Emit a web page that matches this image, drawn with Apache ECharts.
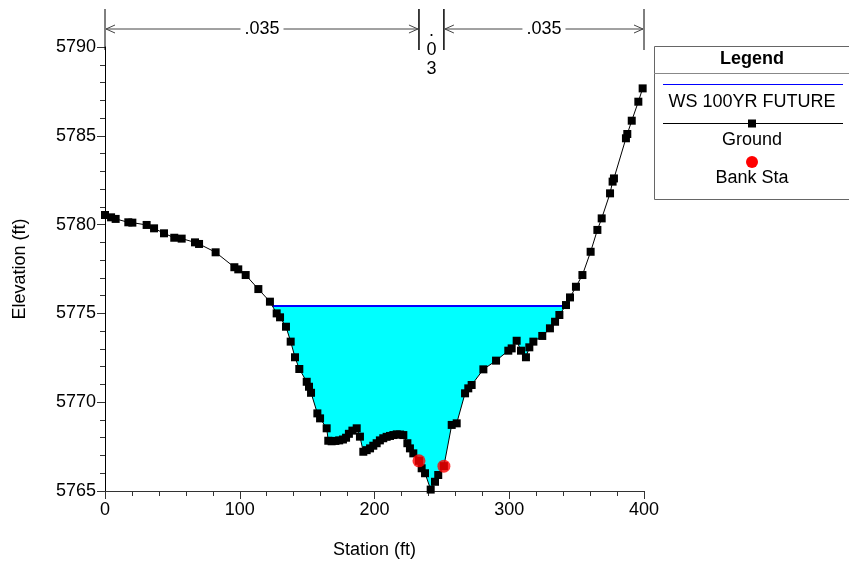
<!DOCTYPE html>
<html><head><meta charset="utf-8">
<script src="https://cdn.jsdelivr.net/npm/echarts@6/dist/echarts.min.js"></script>
<style>html,body{margin:0;padding:0;background:#fff}#c{width:849px;height:565px}</style>
</head><body><div id="c"></div>
<script>
const groundStation = [0,4.5,7.9,17.3,20.3,30.9,36.4,43.8,51.4,56.9,66.8,69.8,82.1,96.0,98.9,104.4,113.8,122.4,127.4,129.9,134.3,137.8,141.0,144.2,149.7,151.4,152.9,157.6,159.6,164.5,165.7,168.2,171.0,173.8,176.6,178.9,181.0,183.6,186.8,189.2,191.7,194.2,196.7,199.1,201.6,204.0,206.5,209.0,211.5,214.0,216.5,219.0,221.4,224.4,226.3,228.8,233.0,235.0,237.5,241.7,244.9,247.3,251.5,257.3,261.0,267.2,269.6,272.1,280.8,290.2,299.3,301.8,305.5,308.7,312.4,314.9,317.9,324.5,330.2,334.0,337.2,342.1,345.1,349.5,354.3,360.4,365.4,368.6,374.8,376.7,377.7,386.6,387.6,390.9,395.8,399.0];
const groundElev = [5780.54,5780.41,5780.32,5780.13,5780.11,5779.98,5779.79,5779.51,5779.26,5779.21,5779.00,5778.91,5778.44,5777.60,5777.48,5777.16,5776.37,5775.66,5775.00,5774.78,5774.25,5773.41,5772.53,5771.87,5771.15,5770.87,5770.53,5769.37,5769.09,5768.53,5767.83,5767.80,5767.82,5767.85,5767.90,5768.00,5768.22,5768.40,5768.53,5768.06,5767.21,5767.30,5767.40,5767.55,5767.69,5767.85,5767.97,5768.05,5768.10,5768.15,5768.19,5768.18,5768.15,5767.69,5767.40,5767.12,5766.70,5766.28,5766.00,5765.08,5765.52,5765.90,5766.40,5768.72,5768.81,5770.50,5770.78,5770.97,5771.85,5772.34,5772.90,5773.03,5773.46,5772.90,5772.53,5773.09,5773.41,5773.73,5774.16,5774.53,5774.91,5775.47,5775.90,5776.50,5777.16,5778.47,5779.70,5780.35,5781.76,5782.42,5782.60,5784.86,5785.10,5785.85,5786.92,5787.67];
const bankStation = [233.0, 251.5];
const bankElev = [5766.70, 5766.40];
const wsElev = 5775.42;
const nBreaks = [0, 233.0, 251.5, 400];
const nLabels = ['.035', '.03', '.035'];
const xMin = 0, xMax = 400, xStep = 100;
const yMin = 5765, yMax = 5790, yStep = 5;

const FONT = '"Liberation Sans", Arial, sans-serif';
const ground = groundStation.map((s, i) => [s, groundElev[i]]);

// water surface limits: first/last crossing of the WS with the ground
function crossing(a, b) {
  const t = (wsElev - a[1]) / (b[1] - a[1]);
  return a[0] + t * (b[0] - a[0]);
}
let iL = 0; while (ground[iL + 1][1] >= wsElev) iL++;
let iR = ground.length - 1; while (ground[iR - 1][1] >= wsElev) iR--;
const xL = crossing(ground[iL], ground[iL + 1]);
const xR = crossing(ground[iR - 1], ground[iR]);
const waterPoly = [[xL, wsElev]].concat(ground.slice(iL + 1, iR), [[xR, wsElev]]);

const nSegs = nLabels.map((l, i) => [nBreaks[i], nBreaks[i + 1], i]);

const chart = echarts.init(document.getElementById('c'), null, {renderer: 'canvas'});
chart.setOption({
  animation: false,
  backgroundColor: '#fff',
  textStyle: {fontFamily: FONT},
  grid: {left: 105, right: 205, top: 47, bottom: 74, containLabel: false},
  xAxis: {
    type: 'value', min: xMin, max: xMax, interval: xStep,
    name: 'Station (ft)', nameLocation: 'middle', nameGap: 50,
    nameTextStyle: {fontFamily: FONT, fontSize: 18, color: '#000'},
    axisLine: {lineStyle: {color: '#333', width: 1}},
    axisTick: {length: 8, lineStyle: {color: '#333'}},
    minorTick: {show: true, splitNumber: 5, length: 5, lineStyle: {color: '#333'}},
    axisLabel: {fontFamily: FONT, fontSize: 18, color: '#000', margin: 10, formatter: v => String(v)},
    splitLine: {show: false}
  },
  yAxis: {
    type: 'value', min: yMin, max: yMax, interval: yStep,
    name: 'Elevation (ft)', nameLocation: 'middle', nameGap: 76, nameRotate: 90,
    nameTextStyle: {fontFamily: FONT, fontSize: 18, color: '#000'},
    axisLine: {show: true, lineStyle: {color: '#000', width: 1}},
    axisTick: {show: true, length: 8, lineStyle: {color: '#333'}},
    minorTick: {show: true, splitNumber: 5, length: 5, lineStyle: {color: '#333'}},
    axisLabel: {fontFamily: FONT, fontSize: 18, color: '#000', margin: 9, formatter: v => String(v)},
    splitLine: {show: false}
  },
  series: [
    {
      type: 'custom', name: 'water', z: 1,
      data: [[xL, wsElev]],
      encode: {x: 0, y: 1},
      renderItem: function (params, api) {
        const pts = waterPoly.map(p => api.coord(p));
        return {type: 'polygon', shape: {points: pts}, style: {fill: '#00FFFF', stroke: null}};
      }
    },
    {
      type: 'line', name: 'WS 100YR FUTURE', z: 2,
      data: [[xL, wsElev], [xR, wsElev]],
      symbol: 'none', lineStyle: {color: '#0000FF', width: 2}
    },
    {
      type: 'line', name: 'Ground', z: 3,
      data: ground,
      symbol: 'rect', symbolSize: 8, showSymbol: true, showAllSymbol: true,
      itemStyle: {color: '#000'},
      lineStyle: {color: '#000', width: 1}
    },
    {
      type: 'scatter', name: 'Bank Sta', z: 4,
      data: bankStation.map((s, i) => [s, bankElev[i]]),
      symbol: 'circle', symbolSize: 13,
      itemStyle: {color: '#FF0000'}
    },
    {
      type: 'custom', name: 'n values', z: 5, clip: false, silent: true,
      data: nSegs,
      encode: {x: [0, 1]},
      renderItem: function (params, api) {
        const x0 = api.value(0), x1 = api.value(1), i = api.value(2);
        const p0 = api.coord([x0, yMax]), p1 = api.coord([x1, yMax]);
        const top = p0[1] - 38, bot = p0[1] + 3, ay = p0[1] - 18;
        const ch = [
          {type: 'line', shape: {x1: p0[0], y1: top, x2: p0[0], y2: bot}, style: {stroke: '#000', lineWidth: 1}},
          {type: 'line', shape: {x1: p1[0], y1: top, x2: p1[0], y2: bot}, style: {stroke: '#000', lineWidth: 1}}
        ];
        const label = nLabels[i];
        const mid = (p0[0] + p1[0]) / 2;
        if (p1[0] - p0[0] > 60) {
          const a0 = p0[0] + 1, a1 = p1[0] - 1;
          ch.push({type: 'line', shape: {x1: a0, y1: ay, x2: a1, y2: ay}, style: {stroke: '#444', lineWidth: 1}});
          ch.push({type: 'polyline', shape: {points: [[a0 + 9, ay - 4], [a0, ay], [a0 + 9, ay + 4]]}, style: {stroke: '#444', lineWidth: 1, fill: null}});
          ch.push({type: 'polyline', shape: {points: [[a1 - 9, ay - 4], [a1, ay], [a1 - 9, ay + 4]]}, style: {stroke: '#444', lineWidth: 1, fill: null}});
          ch.push({type: 'text', style: {text: label, x: mid, y: ay, align: 'center', verticalAlign: 'middle',
            font: '18px ' + FONT, fill: '#000', backgroundColor: '#fff', padding: [0, 4]}});
        } else {
          ch.push({type: 'text', style: {text: label.split('').join('\n'), x: mid, y: top + 13, align: 'center', verticalAlign: 'top',
            font: '18px ' + FONT, fill: '#000', lineHeight: 19}});
        }
        return {type: 'group', children: ch};
      }
    }
  ],
  graphic: [
    {type: 'rect', shape: {x: 654.5, y: 46.5, width: 200, height: 153}, style: {fill: '#fff', stroke: '#666', lineWidth: 1}, z: 10},
    {type: 'text', x: 752, y: 59, style: {text: 'Legend', font: 'bold 18px ' + FONT, fill: '#000', align: 'center', verticalAlign: 'middle'}, z: 11},
    {type: 'line', shape: {x1: 654, y1: 73.5, x2: 849, y2: 73.5}, style: {stroke: '#888', lineWidth: 1}, z: 11},
    {type: 'line', shape: {x1: 663, y1: 84.5, x2: 843, y2: 84.5}, style: {stroke: '#0000FF', lineWidth: 1}, z: 11},
    {type: 'text', x: 752, y: 102, style: {text: 'WS 100YR FUTURE', font: '18px ' + FONT, fill: '#000', align: 'center', verticalAlign: 'middle'}, z: 11},
    {type: 'line', shape: {x1: 663, y1: 123.5, x2: 843, y2: 123.5}, style: {stroke: '#000', lineWidth: 1}, z: 11},
    {type: 'rect', shape: {x: 748, y: 119.5, width: 8, height: 8}, style: {fill: '#000'}, z: 12},
    {type: 'text', x: 752, y: 140, style: {text: 'Ground', font: '18px ' + FONT, fill: '#000', align: 'center', verticalAlign: 'middle'}, z: 11},
    {type: 'circle', shape: {cx: 752, cy: 162, r: 6}, style: {fill: '#FF0000'}, z: 11},
    {type: 'text', x: 752, y: 178, style: {text: 'Bank Sta', font: '18px ' + FONT, fill: '#000', align: 'center', verticalAlign: 'middle'}, z: 11}
  ]
});
</script></body></html>
